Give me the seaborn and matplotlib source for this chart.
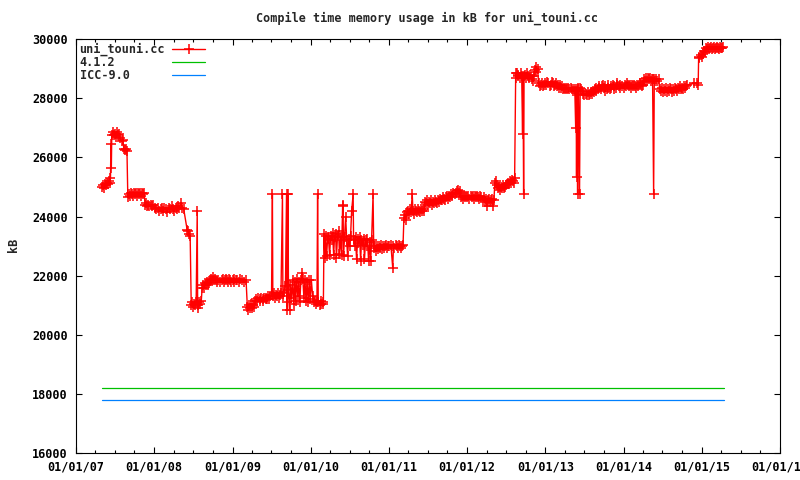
"""
Compile time memory usage (kB) for uni_touni.cc, gnuplot-like look
"""
import matplotlib
matplotlib.use('Agg')
import matplotlib.pyplot as plt
import matplotlib.dates as mdates
import matplotlib.ticker as mticker
import pandas as pd
import seaborn as sns

# ---- data (day of year, kB) ----
days_2007 = ['05-01', '05-06', '05-11', '05-16', '05-20', '05-25', '05-30', '06-04', '06-08', '06-11',
             '06-13', '06-15', '06-17', '06-22', '06-27', '07-01', '07-06', '07-10', '07-15', '07-20',
             '07-25', '08-03', '08-08', '08-12', '08-17', '08-22', '08-27', '08-31', '09-04', '09-09',
             '09-14', '09-19', '09-23', '09-28', '10-03', '10-07', '10-12', '10-17', '10-22', '10-26',
             '10-31', '11-05', '11-10', '11-15', '11-20', '11-25', '11-30', '12-05', '12-10', '12-15',
             '12-20', '12-25']
kb_2007 = [25000, 25080, 24980, 25100, 25050, 25150, 25100, 25200, 25150, 25300,
           26450, 25650, 26750, 26850, 26750, 26800, 26700, 26850, 26750, 26800,
           26650, 26550, 26600, 26300, 26250, 26300, 26200, 24650, 24750, 24700,
           24800, 24750, 24700, 24800, 24750, 24800, 24700, 24800, 24750, 24800,
           24700, 24800, 24750, 24800, 24400, 24450, 24350, 24400, 24350, 24400,
           24350, 24400]

days_2008 = ['01-05', '01-10', '01-19', '01-25', '02-01', '02-06', '02-12', '02-18', '02-25', '03-03',
             '03-10', '03-15', '03-22', '03-28', '04-03', '04-10', '04-17', '04-22', '04-28', '05-04',
             '05-11', '05-18', '06-03', '06-08', '06-13', '06-17', '06-22', '06-27', '07-02', '07-06',
             '07-11', '07-15', '07-20', '07-22', '07-25', '07-30', '08-03', '08-08', '08-12', '08-17',
             '08-22', '08-26', '08-31', '09-05', '09-10', '09-15', '09-19', '09-24', '09-29', '10-03',
             '10-08', '10-13', '10-17', '10-22', '10-26', '11-05', '11-14', '11-19', '11-24', '11-29',
             '12-03', '12-08', '12-12', '12-17', '12-21', '12-26']
kb_2008 = [24300, 24250, 24300, 24200, 24250, 24300, 24200, 24300, 24250, 24150,
           24300, 24250, 24350, 24250, 24200, 24300, 24250, 24350, 24300, 24450,
           24300, 24250, 23550, 23500, 23400, 23350, 21000, 21100, 20950, 21050,
           21000, 21100, 24200, 21000, 20900, 21100, 21050, 21150, 21600, 21700,
           21600, 21750, 21700, 21800, 21700, 21750, 21850, 21900, 21850, 21950,
           21850, 21900, 21850, 21800, 21850, 21800, 21850, 21900, 21800, 21850,
           21900, 21850, 21800, 21900, 21850, 21800]

days_2009 = ['01-01', '01-06', '01-10', '01-15', '01-20', '01-29', '02-07', '02-16', '02-25', '03-05',
             '03-11', '03-16', '03-20', '03-25', '03-30', '04-04', '04-08', '04-13', '04-17', '04-22',
             '04-27', '05-02', '05-07', '05-11', '05-16', '05-21', '05-25', '05-30', '06-04', '06-08',
             '06-13', '06-17', '06-22', '06-27', '07-02', '07-06', '07-08', '07-13', '07-18', '07-22',
             '07-27', '08-01', '08-06', '08-11', '08-15', '08-22', '08-24', '08-29', '09-05', '09-10',
             '09-12', '09-14', '09-17', '09-19', '09-24', '09-28', '10-03', '10-08', '10-13', '10-18',
             '10-22', '10-27', '11-01', '11-06', '11-11', '11-16', '11-21', '11-25', '11-30', '12-05',
             '12-10', '12-15', '12-20', '12-25', '12-30']
kb_2009 = [21850, 21900, 21800, 21850, 21850, 21800, 21900, 21850, 21800, 21850,
           20950, 20850, 21000, 20900, 21050, 20900, 21000, 20950, 21150, 21200,
           21150, 21250, 21200, 21150, 21250, 21200, 21150, 21250, 21200, 21250,
           21200, 21300, 21200, 21300, 21350, 24750, 21300, 21400, 21250, 21350,
           21300, 21400, 21250, 21350, 21400, 24750, 21300, 21450, 21650, 24750,
           21100, 20850, 24750, 21500, 20850, 21700, 21250, 21850, 21050, 21800,
           21150, 21900, 21300, 21800, 21100, 21850, 22100, 21900, 21250, 21850,
           21150, 21800, 21100, 21850, 21200]

days_2010 = ['01-04', '01-10', '01-15', '01-20', '01-25', '01-30', '02-02', '02-05', '02-11', '02-16',
             '02-20', '02-25', '03-01', '03-04', '03-08', '03-11', '03-16', '03-21', '03-25', '03-30',
             '04-04', '04-08', '04-13', '04-18', '04-22', '04-27', '05-01', '05-06', '05-11', '05-15',
             '05-20', '05-25', '05-30', '06-01', '06-03', '06-08', '06-13', '06-18', '06-22', '06-27',
             '07-02', '07-06', '07-11', '07-18', '07-20', '07-25', '07-29', '08-03', '08-08', '08-12',
             '08-17', '08-22', '08-26', '08-31', '09-05', '09-09', '09-14', '09-19', '09-23', '09-28',
             '10-03', '10-08', '10-12', '10-19', '10-22', '10-27', '11-01', '11-05', '11-10', '11-14',
             '11-19', '11-24', '11-28', '12-03', '12-08', '12-12', '12-17', '12-22', '12-26']
kb_2010 = [21850, 21300, 21100, 21150, 21050, 21100, 24750, 21100, 21000, 21150,
           21050, 21100, 21050, 23400, 22600, 23350, 22650, 23300, 23250, 22700,
           23350, 23200, 23450, 22700, 23300, 23400, 22600, 23350, 23500, 22750,
           23300, 22700, 24400, 24350, 22650, 23300, 24000, 23200, 22650, 23250,
           23000, 23350, 24200, 24750, 23200, 23000, 23300, 22550, 23250, 23100,
           23300, 22500, 23200, 23050, 23250, 22550, 23200, 23000, 23250, 22500,
           23150, 22500, 23200, 24750, 22950, 23000, 22850, 23000, 22900, 23000,
           22950, 23050, 22900, 23000, 22950, 23000, 23050, 22950, 23000]

days_2011 = ['01-01', '01-10', '01-19', '01-22', '01-27', '02-01', '02-07', '02-12', '02-17', '02-22',
             '02-26', '03-03', '03-08', '03-12', '03-17', '03-21', '03-26', '03-31', '04-05', '04-10',
             '04-14', '04-20', '04-23', '04-28', '05-03', '05-07', '05-12', '05-16', '05-21', '05-26',
             '05-31', '06-04', '06-09', '06-14', '06-18', '06-23', '06-28', '07-02', '07-07', '07-12',
             '07-16', '07-21', '07-26', '07-30', '08-04', '08-09', '08-14', '08-19', '08-23', '08-28',
             '09-01', '09-06', '09-10', '09-15', '09-20', '09-24', '09-29', '10-03', '10-08', '10-13',
             '10-17', '10-22', '10-27', '11-06', '11-10', '11-15', '11-19', '11-24', '11-29', '12-04',
             '12-08', '12-13', '12-18', '12-22', '12-27']
kb_2011 = [23000, 23050, 22250, 23000, 22950, 23050, 23000, 22950, 23050, 23000,
           22950, 23000, 23050, 23950, 24050, 23900, 24150, 24200, 24100, 24250,
           24150, 24750, 24200, 24100, 24250, 24200, 24150, 24250, 24200, 24150,
           24250, 24200, 24250, 24200, 24500, 24450, 24550, 24400, 24500, 24450,
           24550, 24400, 24500, 24450, 24550, 24500, 24450, 24550, 24500, 24600,
           24550, 24550, 24650, 24600, 24550, 24650, 24700, 24600, 24700, 24650,
           24750, 24700, 24800, 24750, 24800, 24850, 24900, 24800, 24850, 24650,
           24700, 24600, 24700, 24650, 24700]

days_2012 = ['01-01', '01-06', '01-11', '01-17', '01-22', '01-27', '02-01', '02-05', '02-10', '02-15',
             '02-20', '02-24', '03-01', '03-06', '03-13', '03-18', '03-23', '03-28', '04-01', '04-06',
             '04-11', '04-16', '04-20', '04-25', '04-30', '05-05', '05-10', '05-15', '05-19', '05-24',
             '05-28', '06-02', '06-06', '06-11', '06-15', '06-20', '06-25', '06-29', '07-04', '07-09',
             '07-13', '07-18', '07-23', '07-27', '08-01', '08-05', '08-10', '08-15', '08-17', '08-20',
             '08-24', '08-28', '09-02', '09-07', '09-12', '09-16', '09-18', '09-21', '09-23', '09-28',
             '10-03', '10-08', '10-13', '10-18', '10-23', '10-28', '11-02', '11-07', '11-11', '11-16',
             '11-20', '11-25', '11-30', '12-05', '12-09', '12-14', '12-19', '12-23', '12-28']
kb_2012 = [24650, 24700, 24600, 24700, 24650, 24700, 24600, 24700, 24650, 24700,
           24650, 24600, 24700, 24650, 24550, 24650, 24500, 24600, 24350, 24550,
           24600, 24500, 24550, 24600, 24350, 24550, 25150, 25200, 25050, 24950,
           25000, 24900, 25000, 24950, 25050, 24950, 25000, 25050, 25100, 25150,
           25100, 25200, 25150, 25250, 25200, 25150, 25300, 28850, 28700, 28850,
           28750, 28800, 28700, 28850, 28750, 26800, 28700, 24750, 28750, 28800,
           28700, 28850, 28750, 28700, 28800, 28650, 28600, 28750, 28950, 29050,
           28900, 29000, 28500, 28400, 28450, 28500, 28400, 28450, 28500]

days_2013 = ['01-03', '01-08', '01-15', '01-20', '01-25', '01-30', '02-03', '02-08', '02-13', '02-18',
             '02-22', '02-27', '03-04', '03-09', '03-14', '03-19', '03-24', '03-29', '04-03', '04-08',
             '04-13', '04-18', '04-23', '04-28', '05-03', '05-08', '05-13', '05-18', '05-22', '05-24',
             '05-26', '05-28', '05-31', '06-02', '06-04', '06-09', '06-12', '06-16', '06-21', '06-26',
             '07-01', '07-07', '07-12', '07-17', '07-21', '07-26', '07-31', '08-04', '08-09', '08-14',
             '08-18', '08-23', '08-27', '09-01', '09-06', '09-10', '09-15', '09-20', '09-25', '09-29',
             '10-04', '10-08', '10-13', '10-18', '10-22', '10-27', '11-01', '11-05', '11-10', '11-15',
             '11-19', '11-24', '11-29', '12-03', '12-08', '12-13', '12-17', '12-22']
kb_2013 = [28450, 28550, 28500, 28400, 28450, 28550, 28500, 28400, 28450, 28500,
           28400, 28450, 28350, 28450, 28350, 28400, 28300, 28350, 28300, 28350,
           28300, 28350, 28300, 28350, 28300, 28250, 28300, 28250, 27000, 28300,
           25350, 28250, 24750, 28300, 28350, 24750, 28350, 28300, 28250, 28150,
           28100, 28150, 28100, 28200, 28100, 28150, 28200, 28150, 28250, 28200,
           28300, 28250, 28350, 28300, 28400, 28350, 28300, 28400, 28450, 28350,
           28250, 28400, 28300, 28450, 28350, 28300, 28400, 28350, 28450, 28400,
           28300, 28350, 28450, 28500, 28400, 28450, 28350, 28400]

days_2014 = ['01-01', '01-06', '01-11', '01-15', '01-20', '01-25', '01-30', '02-03', '02-07', '02-12',
             '02-17', '02-21', '02-26', '03-03', '03-08', '03-13', '03-17', '03-22', '03-27', '04-01',
             '04-04', '04-09', '04-14', '04-18', '04-23', '04-28', '05-03', '05-07', '05-12', '05-16',
             '05-21', '05-24', '05-29', '06-03', '06-08', '06-13', '06-18', '06-23', '06-28', '07-02',
             '07-07', '07-12', '07-16', '07-21', '07-26', '07-30', '08-04', '08-09', '08-13', '08-18',
             '08-23', '08-27', '09-01', '09-06', '09-10', '09-15', '09-20', '09-24', '09-29', '10-04',
             '10-08', '10-13', '10-18', '10-22', '11-24', '12-08', '12-15', '12-17', '12-21', '12-26',
             '12-31']
kb_2014 = [28350, 28450, 28400, 28500, 28450, 28400, 28450, 28350, 28450, 28400,
           28450, 28400, 28350, 28450, 28400, 28450, 28500, 28450, 28400, 28450,
           28650, 28600, 28700, 28600, 28700, 28650, 28700, 28600, 28650, 28650,
           24750, 28650, 28600, 28650, 28600, 28650, 28300, 28250, 28350, 28200,
           28300, 28250, 28350, 28200, 28300, 28250, 28350, 28300, 28200, 28300,
           28250, 28350, 28300, 28250, 28350, 28300, 28400, 28300, 28350, 28300,
           28400, 28350, 28400, 28450, 28500, 28500, 28450, 29350, 29400, 29450,
           29400]

days_2015 = ['01-05', '01-10', '01-14', '01-19', '01-24', '01-28', '02-02', '02-07', '02-11', '02-16',
             '02-21', '02-25', '03-02', '03-07', '03-12', '03-16', '03-21', '03-26', '03-31', '04-04',
             '04-09']
kb_2015 = [29500, 29600, 29550, 29700, 29650, 29750, 29650, 29700, 29750, 29650,
           29700, 29750, 29650, 29700, 29750, 29700, 29650, 29750, 29700, 29700,
           29750]

# reference compilers, constant over the whole period
ref_dates = ['2007-05-01', '2015-04-15']
gcc_412_kb = 18200
icc_90_kb = 17800

years = {2007: (days_2007, kb_2007), 2008: (days_2008, kb_2008), 2009: (days_2009, kb_2009),
         2010: (days_2010, kb_2010), 2011: (days_2011, kb_2011), 2012: (days_2012, kb_2012),
         2013: (days_2013, kb_2013), 2014: (days_2014, kb_2014), 2015: (days_2015, kb_2015)}

rows = []
for yr, (days, kbs) in years.items():
    for d, v in zip(days, kbs, strict=True):
        rows.append((pd.Timestamp(f'{yr}-{d}'), v))
df = pd.DataFrame(rows, columns=['date', 'kB'])
df_ref = pd.DataFrame({'date': pd.to_datetime(ref_dates),
                       '4.1.2': [gcc_412_kb] * 2,
                       'ICC-9.0': [icc_90_kb] * 2})

#%% plot
sns.set_style('white')
plt.rcParams['font.family'] = ['DejaVu Sans Mono']
plt.rcParams['font.weight'] = 'bold'
plt.rcParams['font.size'] = 8.5

fig = plt.figure(figsize=(8, 4.8), dpi=100)
ax = fig.add_axes([0.095, 0.056, 0.88, 0.8625])

sns.lineplot(data=df, x='date', y='kB', ax=ax, color='#ff0000', linewidth=1.0,
             marker='+', markersize=6.5, markeredgewidth=1.1, markeredgecolor='#ff0000',
             estimator=None, sort=False, label='uni_touni.cc')
sns.lineplot(data=df_ref, x='date', y='4.1.2', ax=ax, color='#00c000',
             linewidth=0.9, label='4.1.2')
sns.lineplot(data=df_ref, x='date', y='ICC-9.0', ax=ax, color='#0080ff',
             linewidth=0.9, label='ICC-9.0')

ax.set_xlim(pd.Timestamp('2007-01-01'), pd.Timestamp('2016-01-01'))
ax.set_ylim(16000, 30000)
ax.xaxis.set_major_locator(mdates.YearLocator())
ax.xaxis.set_minor_locator(mdates.MonthLocator(bymonth=[4, 7, 10]))
ax.xaxis.set_major_formatter(mdates.DateFormatter('%m/%d/%y'))
ax.yaxis.set_major_locator(mticker.MultipleLocator(2000))
ax.yaxis.set_major_formatter(mticker.FormatStrFormatter('%d'))
ax.tick_params(which='both', direction='in', bottom=True, left=True, top=True,
               right=True, width=0.8, color='black', labelcolor='black')
ax.tick_params(which='major', length=4.5)
ax.tick_params(which='minor', length=2.2)
ax.tick_params(axis='x', pad=5)
ax.tick_params(axis='y', pad=6)
for sp in ax.spines.values():
    sp.set_color('black')
    sp.set_linewidth(0.8)
ax.set_xlabel('')
ax.set_ylabel('')

fig.text(0.534, 0.9625, 'Compile time memory usage in kB for uni_touni.cc',
         ha='center', va='center')
fig.text(0.0175, 0.49, 'kB', rotation=90, ha='center', va='center')

leg = ax.legend(loc='upper left', frameon=False, markerfirst=False, numpoints=1,
                handlelength=2.8, handletextpad=0.6, labelspacing=0.0,
                borderaxespad=0.1, borderpad=0.2)
# gnuplot keeps the key text left-justified with the samples in one column
col = leg._legend_handle_box.get_children()[0]
col.align = 'left'
fs = leg.get_texts()[0].get_fontsize()
labels = [t.get_text() for t in leg.get_texts()]
longest = max(len(l) for l in labels)
for item, lab in zip(col.get_children(), labels):
    item.sep = item.sep + (longest - len(lab)) * 0.602 * fs

fig.savefig('out.png', dpi=100)
